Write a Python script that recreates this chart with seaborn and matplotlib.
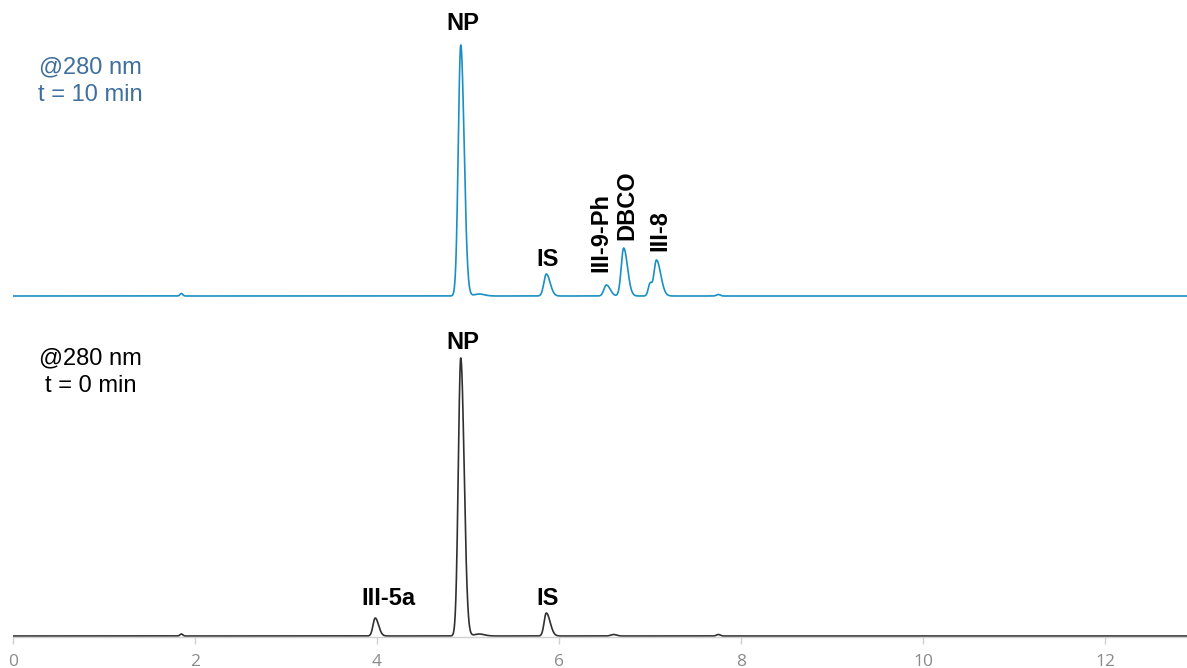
import numpy as np
import pandas as pd
import matplotlib
matplotlib.use("Agg")
import matplotlib.pyplot as plt
import seaborn as sb

# retention time (min), peak height (signal units), left / right sigma (min)
top_rt = [1.85, 4.92, 5.12, 5.86, 6.52, 6.71, 7.00, 7.07, 7.75]
top_h = [2.5, 251, 2.0, 22, 11, 48, 12, 36, 1.5]
top_sl = [0.015, 0.027, 0.05, 0.027, 0.027, 0.027, 0.02, 0.027, 0.02]
top_sr = [0.015, 0.037, 0.06, 0.042, 0.042, 0.042, 0.02, 0.047, 0.02]

bot_rt = [1.85, 3.98, 4.92, 5.12, 5.86, 6.60, 7.75]
bot_h = [2.0, 18, 278, 2.0, 23, 1.5, 1.5]
bot_sl = [0.015, 0.024, 0.027, 0.05, 0.024, 0.03, 0.02]
bot_sr = [0.015, 0.037, 0.037, 0.06, 0.042, 0.03, 0.02]

top_labels = ["NP", "IS", "III-9-Ph", "DBCO", "III-8"]
top_label_x = [4.94, 5.87, 6.46, 6.74, 7.11]
top_label_y = [261, 25, 24, 56, 45]
top_label_rot = [0, 0, 90, 90, 90]

bot_labels = ["III-5a", "NP", "IS"]
bot_label_x = [4.13, 4.94, 5.87]
bot_label_y = [26, 282, 26]

offset = 340  # vertical shift of the t = 10 min trace
time = np.linspace(0, 12.95, 6000)


def trace(rt, h, sl, sr):
    y = np.zeros_like(time)
    for c, a, s1, s2 in zip(rt, h, sl, sr):
        s = np.where(time < c, s1, s2)
        y += a * np.exp(-0.5 * ((time - c) / s) ** 2)
    return y


df = pd.concat([
    pd.DataFrame({"t": time, "signal": trace(bot_rt, bot_h, bot_sl, bot_sr), "run": "0 min"}),
    pd.DataFrame({"t": time, "signal": trace(top_rt, top_h, top_sl, top_sr) + offset, "run": "10 min"}),
])

sb.set_style("white")
plt.rcParams['font.family'] = ['Liberation Sans', 'DejaVu Sans']

fig = plt.figure(figsize=(11.87, 6.68), dpi=100)
ax = fig.add_axes([13 / 1187, 31 / 668, 1 - 13 / 1187, 1 - 31 / 668])
sb.lineplot(data=df, x="t", y="signal", hue="run", palette={"0 min": "#303030", "10 min": "#1a8fc3"},
            linewidth=1.2, legend=False, ax=ax)

ax.set_xlim(0, 12.9)
ax.set_ylim(-1, 636)
ax.set_xticks(range(0, 13, 2))
ax.set_yticks([])
ax.set_xlabel("")
ax.set_ylabel("")
for s in ["top", "right", "left"]:
    ax.spines[s].set_visible(False)
ax.spines["bottom"].set_color("#d0d0d0")
ax.spines["bottom"].set_linewidth(1)
ax.tick_params(axis="x", bottom=True, length=5, width=1, color="#d0d0d0", labelcolor="#8a8a8a",
               labelsize=12.5, pad=7)
for lab in ax.get_xticklabels():
    lab.set_family(["Open Sans", "DejaVu Sans"])

for txt, x, y, r in zip(top_labels, top_label_x, top_label_y, top_label_rot):
    ax.text(x, offset + y, txt, rotation=r, ha="center", va="bottom", fontsize=17,
            fontweight="bold", color="black")
for txt, x, y in zip(bot_labels, bot_label_x, bot_label_y):
    ax.text(x, y, txt, ha="center", va="bottom", fontsize=17, fontweight="bold", color="black")

ax.text(0.85, offset + 215, "@280 nm\nt = 10 min", ha="center", va="center", fontsize=17,
        color="#3e6f9e", linespacing=1.3, multialignment="center")
ax.text(0.85, 264, "@280 nm\nt = 0 min", ha="center", va="center", fontsize=17,
        color="black", linespacing=1.3, multialignment="center")

fig.savefig("out.png", dpi=100)
